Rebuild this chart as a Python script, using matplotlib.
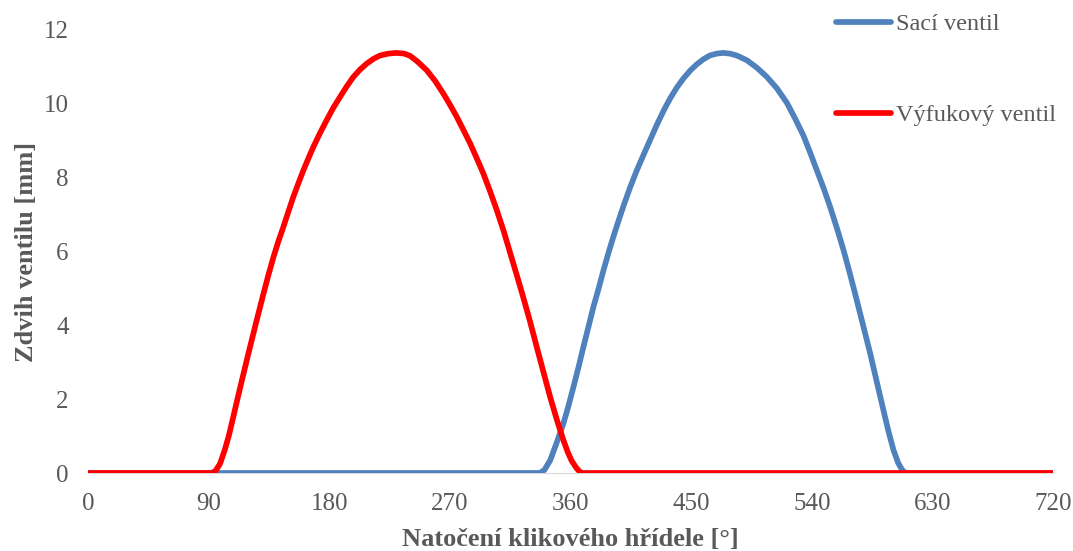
import matplotlib.pyplot as plt

# crank angle [deg] and valve lift [mm]
intake_deg = [0, 337, 340.5, 344.8, 349.5, 354.7, 358.5, 362.2, 366, 369.6, 373.4, 377.1,
              381, 384.6, 388.3, 392, 395.8, 399.5, 404.5, 409.5, 414.5, 419.4, 424.4,
              429.4, 434.4, 439.3, 444.3, 449.3, 454.2, 459.2, 464, 469, 474, 479, 484,
              491.6, 499, 506.5, 514, 521.4, 527.6, 533.8, 538.8, 543.8, 548.8, 553.7,
              558.7, 563.7, 568.7, 573.6, 578.6, 583.6, 588.6, 593.5, 597.3, 601, 604.5,
              607.5, 610, 720]
intake_lift = [0, 0, 0.08, 0.34, 0.8, 1.34, 1.82, 2.33, 2.87, 3.41, 3.96, 4.50,
               5.0, 5.49, 5.96, 6.40, 6.83, 7.23, 7.74, 8.20, 8.62, 9.02, 9.43,
               9.81, 10.15, 10.44, 10.69, 10.90, 11.07, 11.21, 11.31, 11.36, 11.38, 11.36, 11.31,
               11.18, 10.98, 10.73, 10.42, 10.03, 9.60, 9.14, 8.68, 8.20, 7.72, 7.21,
               6.64, 6.04, 5.37, 4.68, 3.96, 3.24, 2.46, 1.70, 1.12, 0.62, 0.27,
               0.08, 0, 0]

exhaust_deg = [0, 92, 95, 98.5, 102, 105, 108.4, 112, 115.9, 119.5, 123.4, 127, 130.8,
               134.5, 138.3, 142, 145.8, 149.5, 153.2, 157, 160.7, 164.4, 168.1, 173,
               178.1, 183, 188.1, 193, 198, 203, 208, 213, 218, 224, 230, 236, 240.3,
               246, 252.7, 259, 265.1, 270, 275.1, 280, 285.1, 290, 295, 300, 305, 310,
               314.9, 320, 324.9, 330, 334.9, 340, 344.8, 350, 354.7, 358, 361, 364.7,
               367, 369, 720]
exhaust_lift = [0, 0, 0.05, 0.25, 0.62, 1.0, 1.52, 2.08, 2.67, 3.21, 3.78, 4.30, 4.84,
                5.35, 5.84, 6.27, 6.67, 7.08, 7.48, 7.85, 8.20, 8.52, 8.83, 9.2,
                9.56, 9.89, 10.19, 10.47, 10.73, 10.93, 11.09, 11.22, 11.31, 11.36, 11.38, 11.36, 11.30,
                11.14, 10.91, 10.62, 10.28, 9.98, 9.65, 9.30, 8.93, 8.53, 8.11, 7.63, 7.12, 6.57,
                5.97, 5.35, 4.74, 4.08, 3.40, 2.71, 2.06, 1.42, 0.89, 0.56, 0.32, 0.12,
                0.03, 0, 0]

x_ticks = [0, 90, 180, 270, 360, 450, 540, 630, 720]
y_ticks = [0, 2, 4, 6, 8, 10, 12]

text_color = "#595959"
plt.rcParams["font.family"] = ["Liberation Serif", "DejaVu Serif"]

fig = plt.figure(figsize=(10.73, 5.51), dpi=100)
ax = fig.add_axes([88 / 1073, 1 - 473 / 551, 965 / 1073, 443 / 551])

ax.plot(intake_deg, intake_lift, color="#4F81BD", lw=4.1,
        solid_capstyle="round", solid_joinstyle="round", label="Sací ventil")
ax.plot(exhaust_deg, exhaust_lift, color="#FF0000", lw=4.1,
        solid_capstyle="round", solid_joinstyle="round", label="Výfukový ventil")

ax.set_xlim(0, 720)
ax.set_ylim(0, 12)
ax.set_xticks(x_ticks)
ax.set_yticks(y_ticks)
ax.tick_params(length=0, labelsize=18, colors=text_color)
ax.tick_params(axis="x", pad=14.5)
ax.tick_params(axis="y", pad=14)
for side in ["top", "right", "left"]:
    ax.spines[side].set_visible(False)
ax.spines["bottom"].set_color("#D9D9D9")
ax.spines["bottom"].set_zorder(0)

ax.set_xlabel("Natočení klikového hřídele [°]", fontsize=19, fontweight="bold",
              color=text_color, labelpad=9)
ax.set_ylabel("Zdvih ventilu [mm]", fontsize=19, fontweight="bold",
              color=text_color, labelpad=4)

leg = fig.legend(loc="upper left", bbox_to_anchor=(836 / 1073, 1 - 13 / 551),
                 frameon=False, fontsize=17.5, handlelength=2.25, handletextpad=0.2,
                 labelspacing=2.85, borderpad=0, borderaxespad=0)
for t in leg.get_texts():
    t.set_color(text_color)
for h in leg.get_lines():
    h.set_linewidth(4.1)

fig.savefig("out.png", dpi=100)
